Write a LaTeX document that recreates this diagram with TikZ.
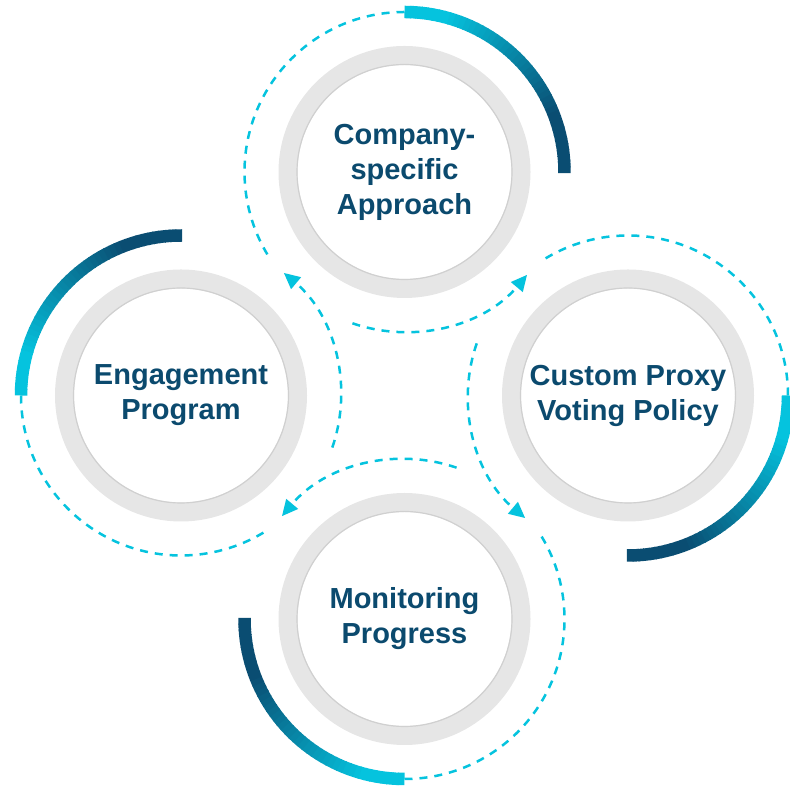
\documentclass[tikz,border=0pt]{standalone}
\usepackage{fontspec}
\setmainfont{Liberation Sans}
\usepackage{xcolor}
\usetikzlibrary{arrows.meta,positioning}

\definecolor{ringcyan}{HTML}{05C3DE}
\definecolor{ringnavy}{HTML}{0A4D72}
\definecolor{labelblue}{HTML}{0B4A6E}
\definecolor{ringgray}{HTML}{E6E6E6}
\definecolor{edgegray}{HTML}{D0D0D0}

\begin{document}
\begin{tikzpicture}[
    x=1pt, y=1pt,
    hub/.style={
      circle,
      draw=ringgray,
      line width=19pt,
      minimum size=233pt,
      align=center,
      text=labelblue,
      font=\fontsize{29}{35}\selectfont\bfseries
    },
    dashring/.style={ringcyan, line width=2.5pt, dash pattern=on 8pt off 7pt},
    flow/.style={-{Triangle[length=16pt,width=15pt]}}
  ]
    \useasboundingbox (0,0) rectangle (790,786);

    % the four stages
    \node[hub] (company) at (404.5,614) {Company-\\specific\\Approach};
    \node[hub] (proxy) at (628,390.5) {Custom Proxy\\Voting Policy};
    \node[hub] (monitor) at (404.5,167) {Monitoring\\Progress};
    \node[hub] (engage) at (181,390.5) {Engagement\\Program};

    \foreach \n/\a in {company/90, proxy/0, monitor/270, engage/180} {
      % inner edge of the grey ring
      \draw[edgegray, line width=1.2pt] (\n.center) circle[radius=107.5];
      % shaded quarter arc, cyan to navy
      \foreach \k in {0,...,44} {
        \pgfmathsetmacro\mixpct{100*min(1,max(0,(\k-7)/27))}
        \draw[line width=12.5pt, ringnavy!\mixpct!ringcyan]
          ([shift={(\a-2*\k:160)}]\n.center) arc[start angle=\a-2*\k, end angle=\a-2*\k-2.4, radius=160];
      }
      % dashed return path with arrow
      \draw[dashring] ([shift={(\a:160)}]\n.center) arc[start angle=\a, end angle=\a+121, radius=160];
      \draw[dashring, flow] ([shift={(\a+161:160)}]\n.center) arc[start angle=\a+161, end angle=\a+230, radius=160];
    }
  \end{tikzpicture}
\end{document}
